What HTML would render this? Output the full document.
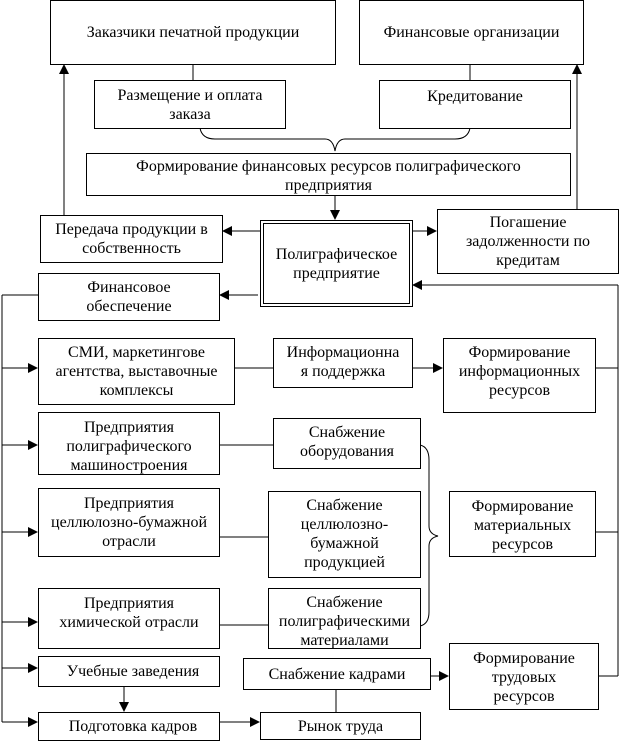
<!DOCTYPE html>
<html><head><meta charset="utf-8"><style>
body{margin:0;width:620px;height:743px;background:#fff;position:relative;overflow:hidden;font-family:"Liberation Serif",serif;font-size:16px;color:#000}
.b{position:absolute;box-sizing:border-box;border:1px solid #000;text-align:center;line-height:19px;overflow:hidden;background:#fff;white-space:nowrap}
svg{position:absolute;left:0;top:0}
</style></head><body>
<svg width="620" height="743">
<defs><marker id="a" markerWidth="10" markerHeight="10" refX="9" refY="5" orient="auto" markerUnits="userSpaceOnUse"><path d="M0,0 L10,5 L0,10z" fill="#000"/></marker></defs>
<g stroke="#000" stroke-width="1" fill="none">
<line x1="193" y1="64" x2="193" y2="80"/>
<line x1="470" y1="64" x2="470" y2="80"/>
<path d="M200,128 Q202,139 215,139 L325,139 Q333,139 335,151 Q337,139 345,139 L455,139 Q468,139 470,128"/>
<line x1="335" y1="195" x2="335" y2="219" marker-end="url(#a)"/>
<line x1="260" y1="231" x2="223" y2="231" marker-end="url(#a)"/>
<line x1="412" y1="231" x2="436" y2="231" marker-end="url(#a)"/>
<line x1="64" y1="215" x2="64" y2="65" marker-end="url(#a)"/>
<line x1="577" y1="209" x2="577" y2="65" marker-end="url(#a)"/>
<line x1="258" y1="295" x2="220" y2="295" marker-end="url(#a)"/>
<line x1="618" y1="285" x2="618" y2="676"/>
<line x1="618" y1="285" x2="413" y2="285" marker-end="url(#a)"/>
<line x1="2" y1="295" x2="2" y2="722"/>
<line x1="2" y1="295" x2="38" y2="295"/>
<line x1="2" y1="368" x2="37" y2="368" marker-end="url(#a)"/>
<line x1="234" y1="368" x2="273" y2="368"/>
<line x1="412" y1="368" x2="442" y2="368" marker-end="url(#a)"/>
<line x1="595" y1="368" x2="618" y2="368"/>
<line x1="2" y1="445" x2="37" y2="445" marker-end="url(#a)"/>
<line x1="219" y1="445" x2="273" y2="445"/>
<path d="M420,445 Q429,447 429,460 L429,526 Q429,534 438,536 Q429,538 429,546 L429,612 Q429,624 420,626"/>
<line x1="2" y1="532" x2="37" y2="532" marker-end="url(#a)"/>
<line x1="219" y1="537" x2="268" y2="537"/>
<line x1="595" y1="532" x2="618" y2="532"/>
<line x1="2" y1="622" x2="37" y2="622" marker-end="url(#a)"/>
<line x1="219" y1="625" x2="268" y2="625"/>
<line x1="2" y1="668" x2="37" y2="668" marker-end="url(#a)"/>
<line x1="430" y1="676" x2="448" y2="676" marker-end="url(#a)"/>
<line x1="598" y1="676" x2="618" y2="676"/>
<line x1="124" y1="686" x2="124" y2="711" marker-end="url(#a)"/>
<line x1="2" y1="722" x2="37" y2="722" marker-end="url(#a)"/>
<line x1="219" y1="722" x2="259" y2="722" marker-end="url(#a)"/>
<line x1="336" y1="689" x2="336" y2="712"/>
</g></svg>
<div class="b" style="left:50px;top:0;width:286px;height:65px;line-height:64px">Заказчики печатной продукции</div>
<div class="b" style="left:359px;top:0;width:225px;height:65px;line-height:64px">Финансовые организации</div>
<div class="b" style="left:94px;top:80px;width:192px;height:49px;padding-top:5px">Размещение и оплата<br>заказа</div>
<div class="b" style="left:379px;top:80px;width:192px;height:49px;padding-top:6px">Кредитование</div>
<div class="b" style="left:86px;top:153px;width:485px;height:43px;padding-top:3px">Формирование финансовых ресурсов полиграфического<br>предприятия</div>
<div class="b" style="left:40px;top:215px;width:183px;height:48px;padding-top:4px">Передача продукции в<br>собственность</div>
<div class="b" style="left:260px;top:220px;width:153px;height:87px;border:4px double #000;padding-top:21px">Полиграфическое<br>предприятие</div>
<div class="b" style="left:437px;top:209px;width:182px;height:65px;padding-top:3px">Погашение<br>задолженности по<br>кредитам</div>
<div class="b" style="left:38px;top:273px;width:182px;height:48px;padding-top:4px">Финансовое<br>обеспечение</div>
<div class="b" style="left:38px;top:338px;width:197px;height:67px;padding-top:4px">СМИ, маркетингове<br>агентства, выставочные<br>комплексы</div>
<div class="b" style="left:273px;top:338px;width:140px;height:50px;padding-top:4px">Информационна<br>я поддержка</div>
<div class="b" style="left:443px;top:338px;width:153px;height:75px;padding-top:4px">Формирование<br>информационных<br>ресурсов</div>
<div class="b" style="left:38px;top:412px;width:182px;height:63px;padding-top:5px">Предприятия<br>полиграфического<br>машиностроения</div>
<div class="b" style="left:273px;top:418px;width:148px;height:51px;padding-top:4px">Снабжение<br>оборудования</div>
<div class="b" style="left:38px;top:488px;width:182px;height:69px;padding-top:5px">Предприятия<br>целлюлозно-бумажной<br>отрасли</div>
<div class="b" style="left:268px;top:491px;width:153px;height:87px;padding-top:4px">Снабжение<br>целлюлозно-<br>бумажной<br>продукцией</div>
<div class="b" style="left:449px;top:491px;width:147px;height:66px;padding-top:5px">Формирование<br>материальных<br>ресурсов</div>
<div class="b" style="left:38px;top:588px;width:182px;height:61px;padding-top:5px">Предприятия<br>химической отрасли</div>
<div class="b" style="left:268px;top:588px;width:153px;height:61px;padding-top:4px">Снабжение<br>полиграфическими<br>материалами</div>
<div class="b" style="left:38px;top:656px;width:182px;height:31px;padding-top:5px">&nbsp;&nbsp;Учебные заведения</div>
<div class="b" style="left:243px;top:658px;width:188px;height:32px;padding-top:6px">Снабжение кадрами</div>
<div class="b" style="left:449px;top:643px;width:150px;height:67px;padding-top:5px">Формирование<br>трудовых<br>ресурсов</div>
<div class="b" style="left:38px;top:712px;width:182px;height:29px;padding-top:4px">&nbsp;&nbsp;Подготовка кадров</div>
<div class="b" style="left:260px;top:712px;width:161px;height:28px;padding-top:4px">Рынок труда</div>
</body></html>
